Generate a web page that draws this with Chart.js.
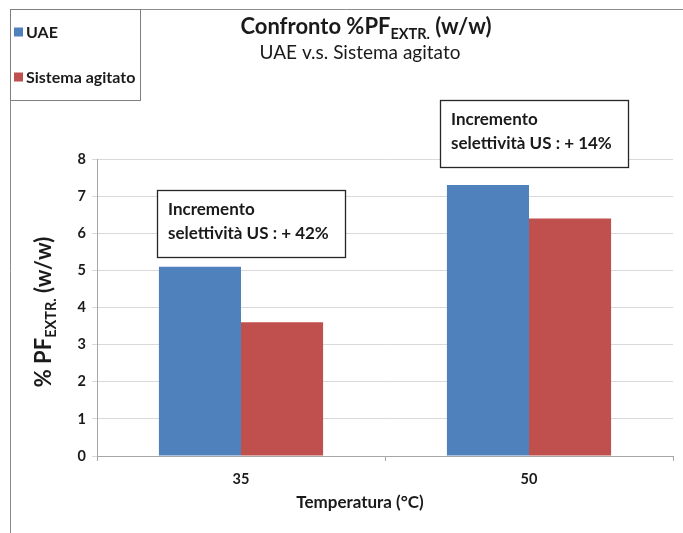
<!DOCTYPE html>
<html>
<head>
<meta charset="utf-8">
<script src="https://cdn.jsdelivr.net/npm/chart.js@4.4.1/dist/chart.umd.min.js"></script>
<style>
  html, body { margin: 0; padding: 0; background: #ffffff; }
  #wrap { position: relative; width: 683px; height: 533px; }
</style>
</head>
<body>
<div id="wrap"><canvas id="chart" width="683" height="533"></canvas></div>
<script>
// Extraction yield (% w/w) at two temperatures
const temperatures = ['35', '50'];
const uaeValues = [5.1, 7.3];
const agitatedValues = [3.6, 6.4];
const yTicks = [0, 1, 2, 3, 4, 5, 6, 7, 8];
const seriesNames = ['UAE', 'Sistema agitato'];

const BLUE = '#4f81bd';
const RED = '#c0504d';
const FONT = 'Lato, "Open Sans", "DejaVu Sans", sans-serif';
const TEXT = '#1a1a1a';

// selectivity increase of UAE over the agitated system, per temperature
const increments = uaeValues.map((v, i) => Math.round((v / agitatedValues[i] - 1) * 100));

// draws "main" + subscript + "tail" starting at x (left aligned), baseline y
function subText(ctx, x, y, main, sub, tail, size, subSize) {
  ctx.font = 'bold ' + size + 'px ' + FONT;
  ctx.fillText(main, x, y);
  x += ctx.measureText(main).width;
  ctx.font = 'bold ' + subSize + 'px ' + FONT;
  ctx.fillText(sub, x, y + size * 0.22);
  x += ctx.measureText(sub).width;
  ctx.font = 'bold ' + size + 'px ' + FONT;
  ctx.fillText(tail, x, y);
}
function subTextWidth(ctx, main, sub, tail, size, subSize) {
  ctx.font = 'bold ' + size + 'px ' + FONT;
  let w = ctx.measureText(main).width + ctx.measureText(tail).width;
  ctx.font = 'bold ' + subSize + 'px ' + FONT;
  return w + ctx.measureText(sub).width;
}

const decorations = {
  id: 'decorations',
  afterDraw(chart) {
    const ctx = chart.ctx;
    const xs = chart.scales.x;
    ctx.save();

    // outer frame (top and left edges)
    ctx.strokeStyle = '#8c8c8c';
    ctx.lineWidth = 1;
    ctx.beginPath();
    ctx.moveTo(10.5, 533);
    ctx.lineTo(10.5, 9.5);
    ctx.lineTo(683, 9.5);
    ctx.stroke();

    // legend box
    ctx.strokeStyle = '#7f7f7f';
    ctx.strokeRect(10.5, 9.5, 130, 91);
    ctx.textBaseline = 'middle';
    ctx.textAlign = 'left';
    ctx.font = 'bold 16px ' + FONT;
    [[BLUE, 32], [RED, 77]].forEach(([c, y], i) => {
      ctx.fillStyle = c;
      ctx.fillRect(14, y - 4.5, 9, 9);
      ctx.fillStyle = TEXT;
      ctx.fillText(seriesNames[i], 26, y + 0.5);
    });

    // title with subscript
    ctx.fillStyle = TEXT;
    ctx.textBaseline = 'alphabetic';
    const tw = subTextWidth(ctx, 'Confronto %PF', 'EXTR.', ' (w/w)', 22, 14.5);
    subText(ctx, 366 - tw / 2, 34, 'Confronto %PF', 'EXTR.', ' (w/w)', 22, 14.5);
    ctx.font = '19px ' + FONT;
    ctx.textAlign = 'center';
    ctx.fillText('UAE v.s. Sistema agitato', 360, 59);

    // y axis title, rotated
    ctx.save();
    ctx.translate(51, 312);
    ctx.rotate(-Math.PI / 2);
    ctx.textAlign = 'left';
    const yw = subTextWidth(ctx, '% PF', 'EXTR.', ' (w/w)', 22, 14.5);
    subText(ctx, -yw / 2, 0, '% PF', 'EXTR.', ' (w/w)', 22, 14.5);
    ctx.restore();

    // x axis title
    ctx.textAlign = 'center';
    ctx.font = 'bold 17px ' + FONT;
    ctx.fillText('Temperatura (°C)', (xs.left + xs.right) / 2 - 25, 508);

    // callout boxes above each temperature group
    const boxes = [
      { x: 157, y: 190 },
      { x: 440, y: 100 }
    ];
    boxes.forEach((b, i) => {
      ctx.fillStyle = '#ffffff';
      ctx.fillRect(b.x, b.y, 188, 67);
      ctx.strokeStyle = '#262626';
      ctx.lineWidth = 1.3;
      ctx.strokeRect(b.x + 0.5, b.y + 0.5, 188, 67);
      ctx.fillStyle = TEXT;
      ctx.textAlign = 'left';
      ctx.textBaseline = 'middle';
      ctx.font = 'bold 17px ' + FONT;
      ctx.fillText('Incremento', b.x + 11, b.y + 20);
      ctx.fillText('selettività US : + ' + increments[i] + '%', b.x + 11, b.y + 44);
    });

    ctx.restore();
  }
};

new Chart(document.getElementById('chart'), {
  type: 'bar',
  data: {
    labels: temperatures,
    datasets: [
      { label: seriesNames[0], data: uaeValues, backgroundColor: BLUE, borderWidth: 0 },
      { label: seriesNames[1], data: agitatedValues, backgroundColor: RED, borderWidth: 0 }
    ]
  },
  options: {
    responsive: false,
    animation: false,
    devicePixelRatio: 1,
    layout: { padding: { left: 0, top: 159, right: 10, bottom: 0 } },
    plugins: {
      legend: { display: false },
      title: { display: false },
      tooltip: { enabled: false }
    },
    datasets: { bar: { categoryPercentage: 0.57, barPercentage: 1.0 } },
    scales: {
      x: {
        grid: { drawOnChartArea: false, drawTicks: true, tickLength: 5, color: '#a6a6a6', offset: true },
        border: { color: '#a6a6a6' },
        ticks: { color: TEXT, font: { family: FONT, size: 14.5, weight: 'bold' }, padding: 10 },
        afterFit(scale) { scale.height = 77; }
      },
      y: {
        min: 0,
        max: 8,
        afterBuildTicks(scale) { scale.ticks = yTicks.map(v => ({ value: v })); },
        grid: { color: '#d9d9d9', tickLength: 5 },
        border: { color: '#a6a6a6' },
        ticks: { color: TEXT, font: { family: FONT, size: 14.5, weight: 'bold' }, padding: 6 },
        afterFit(scale) { scale.width = 97; }
      }
    }
  },
  plugins: [decorations]
});
</script>
</body>
</html>
